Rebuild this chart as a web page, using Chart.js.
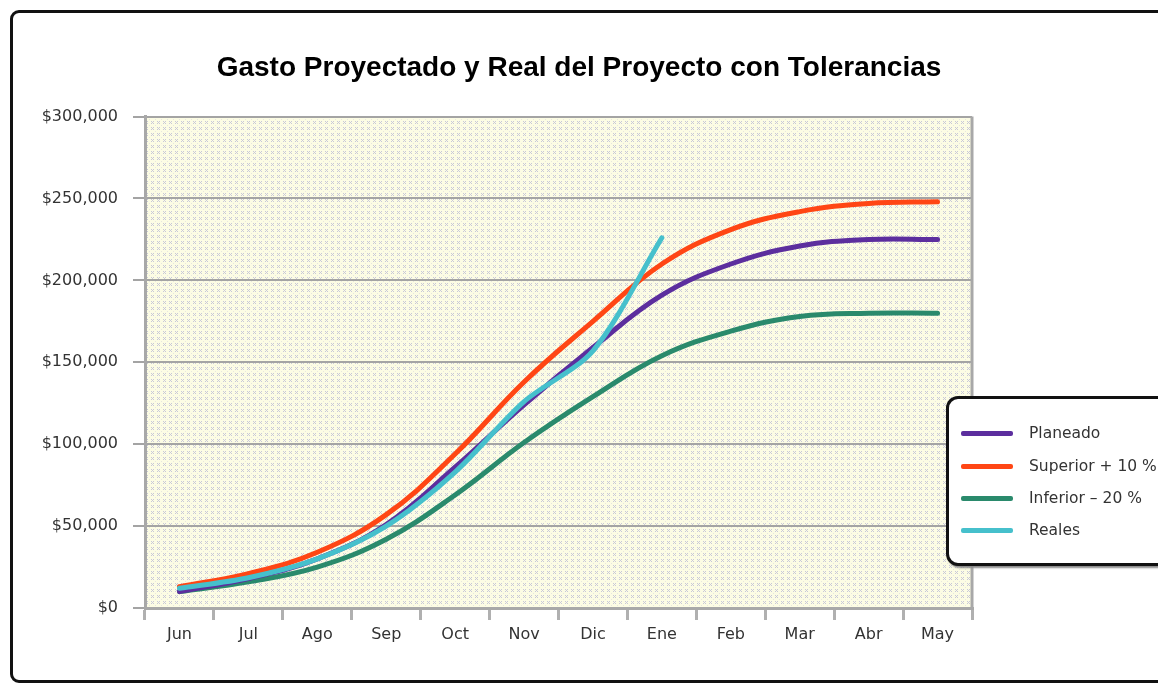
<!DOCTYPE html>
<html lang="es">
<head>
    <meta charset="utf-8" />
    <title>Gasto Proyectado y Real del Proyecto con Tolerancias</title>
    <script src="https://cdn.jsdelivr.net/npm/chart.js"></script>
    <style>
        html, body {
            margin: 0;
            padding: 0;
            background: #fff;
            overflow: hidden;
        }
        #frame {
            position: absolute;
            left: 10px;
            top: 10px;
            width: 1200px;
            height: 667px;
            border: 3px solid #111;
            border-radius: 9px;
        }
        #gastoChart {
            position: absolute;
            left: 0;
            top: 0;
        }
        #leyenda {
            position: absolute;
            left: 946px;
            top: 396px;
            width: 240px;
            height: 164px;
            border: 3px solid #111;
            border-radius: 12px;
            background: #fff;
            box-shadow: 2px 2px 2px #888;
            font-family: "DejaVu Sans", sans-serif;
            font-size: 15.5px;
            color: #333;
        }
        .item {
            position: absolute;
            left: 0;
            height: 20px;
        }
        .item span.linea {
            position: absolute;
            left: 12px;
            top: 8px;
            width: 52px;
            height: 5px;
            border-radius: 2px;
        }
        .item span.texto {
            position: absolute;
            left: 80px;
            top: 0;
            white-space: nowrap;
            line-height: 20px;
        }
    </style>
</head>
<body>
    <div id="frame"></div>
    <canvas id="gastoChart" width="1158" height="684"></canvas>
    <div id="leyenda"></div>

    <script>
        var meses = ['Jun', 'Jul', 'Ago', 'Sep', 'Oct', 'Nov', 'Dic', 'Ene', 'Feb', 'Mar', 'Abr', 'May'];
        var planeado = [10000, 18000, 30000, 51000, 86000, 124000, 159000, 191000, 210000, 221000, 225000, 225000];
        var superior = [13000, 21000, 34000, 57000, 94000, 138000, 175000, 210000, 231000, 242000, 247000, 248000];
        var inferior = [10000, 16000, 25000, 42000, 69000, 101000, 129000, 154000, 169000, 178000, 180000, 180000];
        var reales = [12000, 18500, 30000, 50000, 83000, 126000, 157000, 226000, null, null, null, null];

        // fondo punteado del area de trazado (amarillo claro con pequenas x grises)
        function crearTrama(ctx) {
            var c = document.createElement('canvas');
            c.width = 6;
            c.height = 6;
            var p = c.getContext('2d');
            p.fillStyle = '#fcfce4';
            p.fillRect(0, 0, 6, 6);
            p.fillStyle = '#c8c8d8';
            p.fillRect(1, 1, 1, 1);
            p.fillRect(3, 1, 1, 1);
            p.fillRect(2, 2, 1, 1);
            p.fillRect(1, 3, 1, 1);
            p.fillRect(3, 3, 1, 1);
            p.fillStyle = '#e6e6e0';
            p.fillRect(5, 5, 1, 1);
            return ctx.createPattern(c, 'repeat');
        }

        var fondoArea = {
            id: 'fondoArea',
            beforeDraw: function (chart) {
                var a = chart.chartArea;
                var ctx = chart.ctx;
                ctx.save();
                ctx.fillStyle = crearTrama(ctx);
                ctx.fillRect(a.left, a.top, a.right - a.left, a.bottom - a.top);
                ctx.restore();
            },
            afterDatasetsDraw: function (chart) {
                var a = chart.chartArea;
                var ctx = chart.ctx;
                ctx.save();
                ctx.strokeStyle = '#a8a8a8';
                ctx.lineWidth = 3;
                ctx.beginPath();
                ctx.moveTo(a.right, a.top);
                ctx.lineTo(a.right, a.bottom);
                ctx.stroke();
                ctx.restore();
            }
        };

        var fuente = { family: '"DejaVu Sans", sans-serif', size: 16 };

        var ctx = document.getElementById('gastoChart').getContext('2d');
        var gastoChart = new Chart(ctx, {
            type: 'line',
            data: {
                labels: meses,
                datasets: [{
                    label: 'Planeado',
                    data: planeado,
                    borderColor: '#5c2e9e',
                    order: 1
                }, {
                    label: 'Superior + 10 %',
                    data: superior,
                    borderColor: '#ff4614',
                    order: 2
                }, {
                    label: 'Inferior – 20 %',
                    data: inferior,
                    borderColor: '#2a8a6c',
                    order: 3
                }, {
                    label: 'Reales',
                    data: reales,
                    borderColor: '#46c0cc',
                    tension: 0.3,
                    order: 0
                }]
            },
            options: {
                responsive: false,
                animation: false,
                datasets: {
                    line: {
                        borderWidth: 5,
                        tension: 0.4,
                        pointRadius: 0,
                        borderCapStyle: 'round',
                        fill: false,
                        spanGaps: false
                    }
                },
                layout: {
                    padding: 0
                },
                plugins: {
                    legend: { display: false },
                    tooltip: { enabled: false },
                    title: {
                        display: true,
                        text: 'Gasto Proyectado y Real del Proyecto con Tolerancias',
                        color: '#000',
                        font: { family: '"Liberation Sans", Arial, sans-serif', size: 28, weight: 'bold' },
                        padding: { top: 51, bottom: 32 }
                    }
                },
                scales: {
                    x: {
                        offset: true,
                        afterFit: function (scale) { scale.height = 76; },
                        grid: {
                            offset: true,
                            drawOnChartArea: false,
                            drawTicks: true,
                            tickLength: 12,
                            color: '#b0b0b0',
                            lineWidth: 3
                        },
                        border: { display: true, color: '#a8a8a8', width: 3 },
                        ticks: {
                            color: '#333',
                            font: fuente,
                            padding: 5,
                            maxRotation: 0
                        }
                    },
                    y: {
                        min: 0,
                        max: 300000,
                        afterFit: function (scale) { scale.width = 145; },
                        grid: {
                            color: '#a4a4a4',
                            lineWidth: 2,
                            drawTicks: true,
                            tickLength: 12
                        },
                        border: { display: true, color: '#a8a8a8', width: 3 },
                        ticks: {
                            stepSize: 50000,
                            color: '#333',
                            font: fuente,
                            padding: 15,
                            callback: function (v) {
                                return '$' + v.toLocaleString('en-US');
                            }
                        }
                    },
                    // eje vacio a la derecha: deja el hueco donde va la leyenda
                    margen: {
                        type: 'linear',
                        position: 'right',
                        afterFit: function (scale) { scale.width = 186; },
                        grid: { display: false },
                        border: { display: false },
                        ticks: { display: false }
                    }
                }
            },
            plugins: [fondoArea]
        });

        // leyenda en recuadro redondeado
        var leyenda = document.getElementById('leyenda');
        var filas = [34, 67, 99, 131];
        gastoChart.data.datasets.forEach(function (ds, i) {
            var item = document.createElement('div');
            item.className = 'item';
            item.style.top = (filas[i] - 10) + 'px';
            item.innerHTML = '<span class="linea" style="background:' + ds.borderColor + '"></span>' +
                '<span class="texto">' + ds.label + '</span>';
            leyenda.appendChild(item);
        });
    </script>
</body>
</html>
